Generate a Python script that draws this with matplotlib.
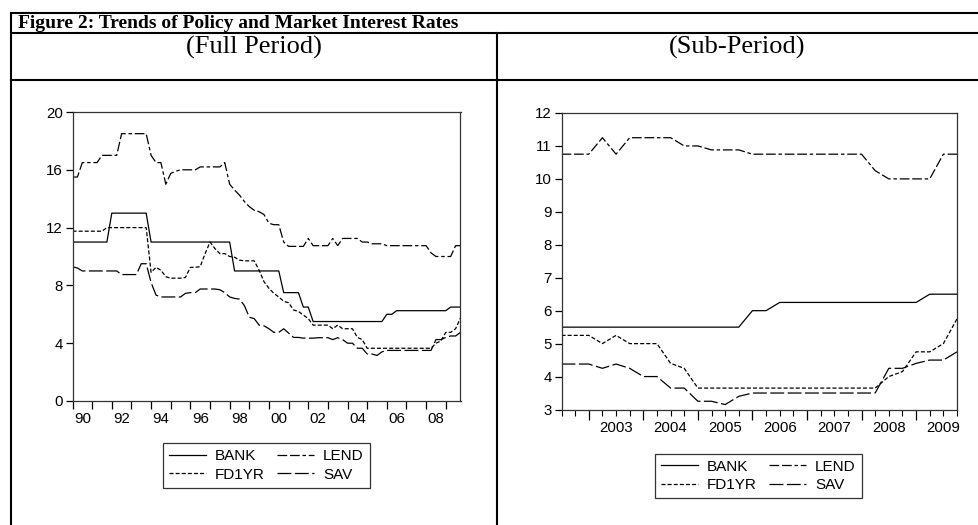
import numpy as np
import matplotlib
matplotlib.use("Agg")
import matplotlib.pyplot as plt
from matplotlib.lines import Line2D

plt.rcParams['font.family'] = ['Liberation Sans', 'DejaVu Sans']
plt.rcParams['lines.scale_dashes'] = False

# quarterly data, 1990Q1 - 2002Q2 (only in the full-period panel)
bank_early = [11]*8 + [13]*8 + [11]*17 + [9]*10 + [7.5]*4 + [6.5]*2 + [5.5]
lend_early = [15.5, 15.5, 16.5, 16.5, 16.5, 16.5, 17, 17, 17, 17,
              18.5, 18.5, 18.5, 18.5, 18.5, 18.5, 17, 16.5, 16.5, 15.0,
              15.75, 15.9, 16, 16, 16, 16, 16.2, 16.2, 16.2, 16.2,
              16.2, 16.5, 15.0, 14.6, 14.25, 13.8, 13.45, 13.2, 13.1, 12.9,
              12.3, 12.2, 12.2, 11.0, 10.7, 10.7, 10.7, 10.7, 11.25, 10.75]
fd1yr_early = [11.75]*7 + [12]*9 + \
              [8.9, 9.25, 9.05, 8.6, 8.5, 8.5, 8.5, 8.55, 9.25, 9.25,
               9.3, 10.2, 11.0, 10.55, 10.2, 10.2, 10.0, 9.95, 9.75, 9.7,
               9.7, 9.7, 9.05, 8.25, 7.8, 7.45, 7.2, 6.9, 6.8, 6.3,
               6.2, 5.95, 5.7, 5.25]
sav_early = [9.3, 9.2] + [9.0]*8 + [8.75]*4 + [9.5, 9.5, 8.2, 7.33] + [7.2]*5 + \
            [7.45, 7.5, 7.5, 7.75, 7.75, 7.75, 7.75,
             7.7, 7.5, 7.2, 7.1, 7.05, 6.6, 5.8, 5.7, 5.25, 5.2,
             5.0, 4.75, 4.75, 5.0, 4.7, 4.4, 4.4, 4.35, 4.35, 4.35]

# quarterly data, 2002Q3 - 2009Q4 (sub-period)
bank_sub = [5.5]*14 + [6.0]*2 + [6.25]*11 + [6.5]*3
lend_sub = [10.75, 10.75, 10.75, 11.25, 10.75, 11.25, 11.25, 11.25, 11.25, 11.0,
            11.0, 10.88, 10.88, 10.88] + [10.75]*9 + [10.25, 10.0, 10.0, 10.0, 10.0, 10.75, 10.75]
fd1yr_sub = [5.25, 5.25, 5.25, 5.0, 5.25, 5.0, 5.0, 5.0, 4.4, 4.25] + [3.65]*14 + \
            [4.0, 4.15, 4.75, 4.75, 5.0, 5.75]
sav_sub = [4.38, 4.38, 4.38, 4.25, 4.38, 4.25, 4.0, 4.0, 3.65, 3.65,
           3.25, 3.25, 3.15, 3.4] + [3.5]*10 + [4.25, 4.25, 4.4, 4.5, 4.5, 4.75]

series_names = ['BANK', 'FD1YR', 'LEND', 'SAV']
styles = {
    'BANK': '-',
    'FD1YR': (0, (2.9, 1.5)),
    'LEND': (0, (7, 2, 7, 2, 2.5, 2)),
    'SAV': (0, (10, 2.5)),
}

full = {'BANK': bank_early + bank_sub, 'LEND': lend_early + lend_sub,
        'FD1YR': fd1yr_early + fd1yr_sub, 'SAV': sav_early + sav_sub}
sub = {'BANK': bank_sub, 'LEND': lend_sub, 'FD1YR': fd1yr_sub, 'SAV': sav_sub}

t_full = 1990 + 0.25 * np.arange(len(full['BANK']))
t_sub = 2002.5 + 0.25 * np.arange(len(bank_sub))

W, H = 979, 525
fig = plt.figure(figsize=(W / 100, H / 100), dpi=100)


def fx(px):
    return px / W


def fy(py):
    return 1 - py / H


# table frame
frame_kw = dict(color='black', lw=1.5, transform=fig.transFigure)
fig.add_artist(Line2D([fx(11), 1], [fy(13), fy(13)], **frame_kw))
fig.add_artist(Line2D([fx(11), 1], [fy(33), fy(33)], **frame_kw))
fig.add_artist(Line2D([fx(11), 1], [fy(80), fy(80)], **frame_kw))
fig.add_artist(Line2D([fx(11), fx(11)], [fy(13), 0], **frame_kw))
fig.add_artist(Line2D([fx(497), fx(497)], [fy(33), 0], **frame_kw))

serif = ['Liberation Serif', 'DejaVu Serif']
fig.text(fx(18), fy(23), 'Figure 2: Trends of Policy and Market Interest Rates',
         family=serif, weight='bold', fontsize=14, va='center', ha='left')
fig.text(fx(254), fy(47), '(Full Period)', family=serif, fontsize=19, va='center', ha='center')
fig.text(fx(737), fy(47), '(Sub-Period)', family=serif, fontsize=19, va='center', ha='center')


def draw(ax, t, data):
    handles = []
    for name in series_names:
        h, = ax.plot(t, data[name], color='black', lw=0.9, linestyle=styles[name], label=name)
        handles.append(h)
    for s in ax.spines.values():
        s.set_color('#333333')
        s.set_linewidth(0.9)
    ax.tick_params(axis='y', direction='out', length=5, width=0.9, labelsize=10.8, pad=2)
    return handles


# full period
ax1 = fig.add_axes([fx(72.5), fy(401), fx(460.5) - fx(72.5), fy(112) - fy(401)])
h1 = draw(ax1, t_full, full)
ax1.set_xlim(1990, 2009.75)
ax1.set_ylim(0, 20)
ax1.set_yticks([0, 4, 8, 12, 16, 20])
ax1.set_xticks(np.arange(1990, 2010))
ax1.tick_params(axis='x', direction='out', length=6, width=0.9, labelbottom=False)
sec1 = ax1.secondary_xaxis('bottom')
sec1.set_xticks(np.arange(1990, 2009, 2) + 0.5)
sec1.set_xticklabels(['%02d' % (y % 100) for y in range(1990, 2009, 2)])
sec1.tick_params(length=0, labelsize=10.8, pad=8)
sec1.spines['bottom'].set_visible(False)

# sub period
ax2 = fig.add_axes([fx(561.5), fy(409.5), fx(957) - fx(561.5), fy(113) - fy(409.5)])
h2 = draw(ax2, t_sub, sub)
ax2.set_xlim(2002.5, 2009.75)
ax2.set_ylim(3, 12)
ax2.set_yticks(range(3, 13))
ax2.set_xticks(np.arange(2003, 2010))
ax2.set_xticks(np.arange(2002.5, 2009.76, 0.25), minor=True)
ax2.tick_params(axis='x', which='major', direction='out', length=7, width=0.9, labelbottom=False)
ax2.tick_params(axis='x', which='minor', direction='out', length=4, width=0.8)
sec2 = ax2.secondary_xaxis('bottom')
sec2.set_xticks(np.arange(2003, 2010) + 0.5)
sec2.set_xticklabels([str(y) for y in range(2003, 2010)])
sec2.tick_params(length=0, labelsize=10.8, pad=8)
sec2.spines['bottom'].set_visible(False)

leg_kw = dict(ncol=2, loc='center', fontsize=11, frameon=True, fancybox=False,
              edgecolor='black', handlelength=2.4, handletextpad=0.6,
              columnspacing=0.8, labelspacing=0.3, borderpad=0.4)
lg1 = fig.legend(h1, series_names, bbox_to_anchor=(fx(266.5), fy(465.5)), **leg_kw)
lg2 = fig.legend(h2, series_names, bbox_to_anchor=(fx(758.5), fy(476)), **leg_kw)
for lg in (lg1, lg2):
    lg.get_frame().set_linewidth(0.9)

fig.savefig('out.png', dpi=100)
